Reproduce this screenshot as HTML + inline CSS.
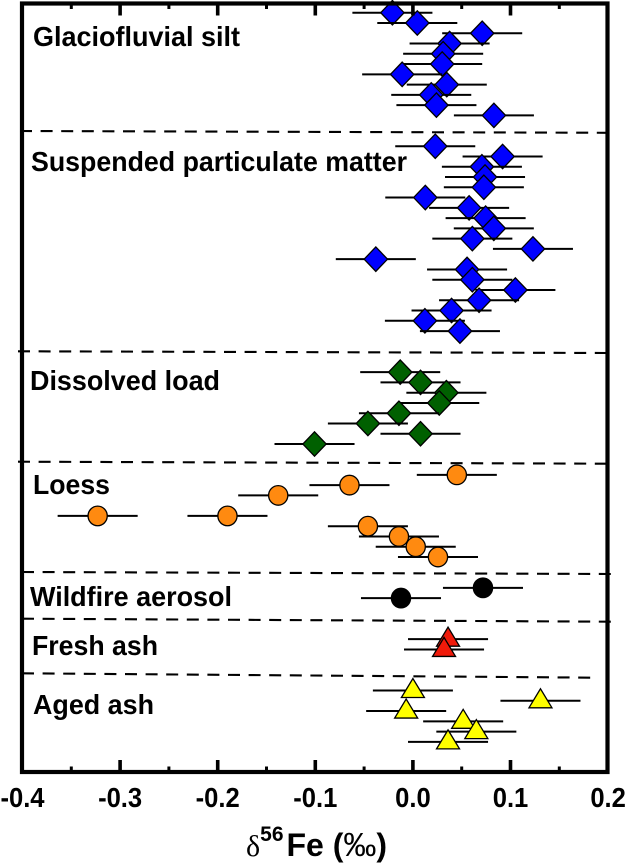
<!DOCTYPE html>
<html>
<head>
<meta charset="utf-8">
<title>Iron isotope composition chart</title>
<style>
html,body{margin:0;padding:0;background:#fff;}
svg{display:block;filter:blur(0.35px);}
text{font-family:"Liberation Sans",sans-serif;fill:#000;}
</style>
</head>
<body>
<svg id="chart" width="625" height="864" viewBox="0 0 625 864" xmlns="http://www.w3.org/2000/svg">
  <rect width="625" height="864" fill="#fff"/>
  <g id="dividers" stroke="#000" stroke-width="2.1" stroke-dasharray="12 8.6" fill="none">
    <line x1="20" y1="131" x2="612" y2="132.8"/>
    <line x1="18" y1="351.3" x2="610" y2="353"/>
    <line x1="18" y1="461.7" x2="610" y2="463.7"/>
    <line x1="22" y1="572" x2="612" y2="574"/>
    <line x1="22" y1="618.7" x2="612" y2="621.7"/>
    <line x1="22" y1="673.3" x2="598" y2="677.7"/>
  </g>
  <g id="series"></g>
  <g id="ticks"></g>
  <rect x="22" y="3.5" width="585.5" height="768.5" fill="none" stroke="#000" stroke-width="4.2"/>
  <g id="tick-labels"></g>
  <g font-weight="bold" font-size="27.5">
    <text x="33" y="46" textLength="207" lengthAdjust="spacingAndGlyphs">Glaciofluvial silt</text>
    <text x="31" y="171" textLength="376" lengthAdjust="spacingAndGlyphs">Suspended particulate matter</text>
    <text x="30" y="390" textLength="190" lengthAdjust="spacingAndGlyphs">Dissolved load</text>
    <text x="33" y="494" textLength="77" lengthAdjust="spacingAndGlyphs">Loess</text>
    <text x="30" y="606" textLength="202" lengthAdjust="spacingAndGlyphs">Wildfire aerosol</text>
    <text x="32" y="655" textLength="126" lengthAdjust="spacingAndGlyphs">Fresh ash</text>
    <text x="33" y="714" textLength="121" lengthAdjust="spacingAndGlyphs">Aged ash</text>
  </g>
  <text x="246" y="856" font-size="32" font-weight="bold"><tspan font-family="'Liberation Serif',serif" font-weight="normal" font-size="30">δ</tspan><tspan font-size="21" dy="-15">56</tspan><tspan dy="15" dx="3">Fe (</tspan><tspan font-weight="normal" font-size="33">‰</tspan><tspan>)</tspan></text>
</svg>
<script>
// Chart data (values in per mil; rows are vertical sample positions)
const glacioValues = [-0.021, 0.0045, 0.071, 0.0376, 0.031, 0.03, -0.011, 0.0347, 0.0188, 0.0241, 0.083];
const glacioRows = [0, 1, 2, 3, 4, 5, 6, 7, 8, 9, 10];
const spmValues = [0.0229, 0.0919, 0.0707, 0.0739, 0.0727, 0.0127, 0.0576, 0.0745, 0.0829, 0.0609, 0.123, -0.038, 0.0555, 0.0609, 0.105, 0.0678, 0.0396, 0.0123, 0.0482];
const spmRows = [13, 14, 15, 16, 17, 18, 19, 20, 21, 22, 23, 24, 25, 26, 27, 28, 29, 30, 31];
const dissolvedValues = [-0.013, 0.0078, 0.0343, 0.027, -0.0143, -0.0461, 0.0078, -0.1008];
const dissolvedRows = [35, 36, 37, 38, 39, 40, 41, 42];
const loessValues = [0.045, -0.065, -0.138, -0.323, -0.19, -0.0461, -0.0143, 0.0029, 0.0257];
const loessRows = [45, 46, 47, 49, 49, 50, 51, 52, 53];
const wildfireValues = [0.0718, -0.0122];
const wildfireRows = [56, 57];
const freshValues = [0.036, 0.0319];
const freshRows = [61, 62];
const agedValues = [0, 0.1307, -0.0069, 0.0515, 0.065, 0.036];
const agedRows = [66, 67, 68, 69, 70, 71];
const errorHalfWidth = 0.041;
const tickValues = [-0.35, -0.3, -0.25, -0.2, -0.15, -0.1, -0.05, 0, 0.05, 0.1, 0.15];
const majorTickValues = [-0.3, -0.2, -0.1, 0, 0.1];
const tickLabelValues = [-0.4, -0.3, -0.2, -0.1, 0, 0.1, 0.2];
const tickLabels = ["-0.4", "-0.3", "-0.2", "-0.1", "0.0", "0.1", "0.2"];

const NS = "http://www.w3.org/2000/svg";
function xScale(v) { return 412.9 + 976 * v; }
function yScale(r) { return 12.7 + 10.27 * r; }

function make(tag, attrs) {
  const el = document.createElementNS(NS, tag);
  for (const k in attrs) el.setAttribute(k, attrs[k]);
  return el;
}

function drawMarker(shape, fill, cx, cy) {
  if (shape === "diamond") {
    return make("polygon", {
      points: (cx - 11.7) + "," + cy + " " + cx + "," + (cy - 12.2) + " " + (cx + 11.7) + "," + cy + " " + cx + "," + (cy + 12.2),
      fill: fill, stroke: "#000", "stroke-width": 1.3
    });
  }
  if (shape === "triangle") {
    return make("polygon", {
      points: (cx - 11.5) + "," + (cy + 7) + " " + cx + "," + (cy - 12) + " " + (cx + 11.5) + "," + (cy + 7),
      fill: fill, stroke: "#000", "stroke-width": 1.3
    });
  }
  return make("ellipse", { cx: cx, cy: cy, rx: 9.6, ry: 9.8, fill: fill, stroke: "#000", "stroke-width": 1.3 });
}

function drawSeries(name, values, rows, shape, fill) {
  const root = document.getElementById("series");
  const group = make("g", {});
  
  
  values.forEach(function (v, i) {
    const cy = yScale(rows[i]);
    const bar = make("line", {
      x1: xScale(v - errorHalfWidth), x2: xScale(v + errorHalfWidth),
      y1: cy, y2: cy, stroke: "#000", "stroke-width": 2
    });
    
    
    group.appendChild(bar);
    const marker = drawMarker(shape, fill, xScale(v), cy);
    
    
    group.appendChild(marker);
  });
  root.appendChild(group);
}

drawSeries("glaciofluvial-silt", glacioValues, glacioRows, "diamond", "#0000ff");
drawSeries("suspended-particulate-matter", spmValues, spmRows, "diamond", "#0000ff");
drawSeries("dissolved-load", dissolvedValues, dissolvedRows, "diamond", "#006000");
drawSeries("loess", loessValues, loessRows, "circle", "#ff8a10");
drawSeries("wildfire-aerosol", wildfireValues, wildfireRows, "circle", "#000000");
drawSeries("fresh-ash", freshValues, freshRows, "triangle", "#f01a0a");
drawSeries("aged-ash", agedValues, agedRows, "triangle", "#ffff00");

const tickRoot = document.getElementById("ticks");
tickValues.forEach(function (v) {
  const major = majorTickValues.indexOf(v) >= 0;
  const len = major ? 12 : 5.5;
  const w = major ? 3.6 : 3;
  const top = make("line", { x1: xScale(v), x2: xScale(v), y1: 3.5, y2: 3.5 + len, stroke: "#000", "stroke-width": w });
  
  
  tickRoot.appendChild(top);
  const bottom = make("line", { x1: xScale(v), x2: xScale(v), y1: 772, y2: 772 - len, stroke: "#000", "stroke-width": w });
  
  
  tickRoot.appendChild(bottom);
});

const labelRoot = document.getElementById("tick-labels");
tickLabelValues.forEach(function (v, i) {
  const t = make("text", { x: xScale(v), y: 807, "text-anchor": "middle", "font-size": 27.5, "font-weight": "bold", lengthAdjust: "spacingAndGlyphs" });
  t.textContent = tickLabels[i];
  
  
  labelRoot.appendChild(t);
  t.setAttribute('textLength', t.getComputedTextLength() * 0.93);
});
</script>
</body>
</html>
